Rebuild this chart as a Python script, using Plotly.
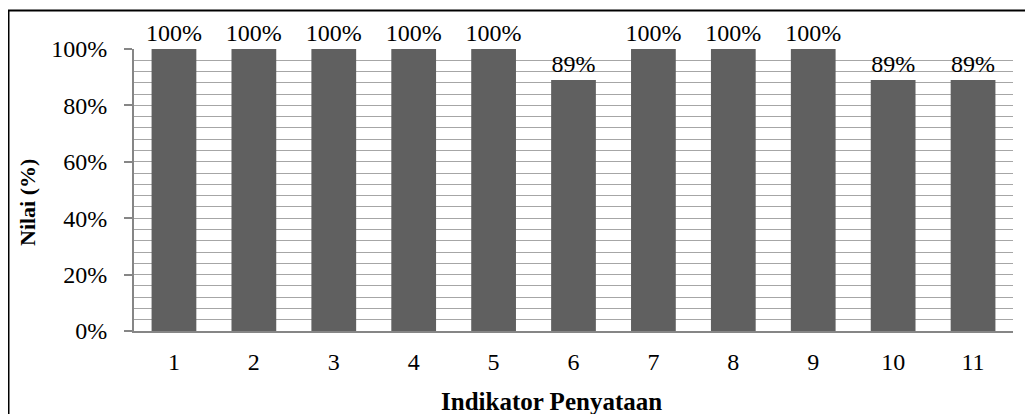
import plotly.graph_objects as go

categories = ["1", "2", "3", "4", "5", "6", "7", "8", "9", "10", "11"]
values = [1.00, 1.00, 1.00, 1.00, 1.00, 0.89, 1.00, 1.00, 1.00, 0.89, 0.89]
y_tick_vals = [0, 0.2, 0.4, 0.6, 0.8, 1.0]
y_tick_text = ["0%", "20%", "40%", "60%", "80%", "100%"]
x_title = "Indikator Penyataan"
y_title = "Nilai (%)"

OFF = 8  # page body margin
W, H = 1033 - OFF, 414 - OFF
# plot area in screenshot pixels
PL, PR, PT, PB = 134, 1013, 49, 331
L, R, T, B = PL - OFF, W - (PR - OFF), PT - OFF, H - (PB - OFF)
pw, ph = PR - PL, PB - PT

def px(x):
    return (x - PL) / pw

def py(y):
    return (PB - y) / ph

FONT = "Liberation Serif"

fig = go.Figure(go.Bar(
    x=categories, y=values,
    marker=dict(color="#606060", line=dict(width=0)),
    text=[f"{round(v*100)}%" for v in values],
    textposition="outside",
    constraintext="none",
    textfont=dict(family=FONT, size=24, color="black"),
    cliponaxis=False,
))

fig.update_layout(
    width=W, height=H,
    margin=dict(l=L, r=R, t=T, b=B, autoexpand=False),
    paper_bgcolor="white", plot_bgcolor="white",
    showlegend=False,
    bargap=0.44,
    font=dict(family=FONT, size=24, color="black"),
    xaxis=dict(
        type="category", showgrid=False, showline=True,
        linecolor="#868686", linewidth=2, ticks="",
        tickfont=dict(family=FONT, size=24, color="black"),
        ticklabelstandoff=8,
    ),
    yaxis=dict(
        range=[0, 1], tickvals=y_tick_vals, ticktext=y_tick_text,
        showgrid=True, gridcolor="#a6a6a6", gridwidth=1,
        showline=True, linecolor="#868686", linewidth=2,
        ticks="outside", ticklen=8, tickcolor="#868686", tickwidth=1.5,
        tickfont=dict(family=FONT, size=24, color="black"),
        ticklabelstandoff=12,
        zeroline=False,
        minor=dict(dtick=0.04, tick0=0, showgrid=True, gridcolor="#a6a6a6", gridwidth=1, ticks=""),
    ),
    annotations=[
        dict(text=f"<b>{x_title}</b>", xref="paper", yref="paper",
             x=px(551), y=py(401), showarrow=False,
             font=dict(family=FONT, size=25, color="black"),
             xanchor="center", yanchor="middle"),
        dict(text=f"<b>{y_title}</b>", xref="paper", yref="paper",
             x=px(27), y=py(203), showarrow=False, textangle=-90,
             font=dict(family=FONT, size=22, color="black"),
             xanchor="center", yanchor="middle"),
    ],
    shapes=[
        dict(type="rect", xref="paper", yref="paper",
             x0=px(8.5), x1=px(1040), y0=py(420), y1=py(10.5),
             line=dict(color="black", width=2), fillcolor="rgba(0,0,0,0)",
             layer="below"),
    ],
)

fig.write_html("out.html")
